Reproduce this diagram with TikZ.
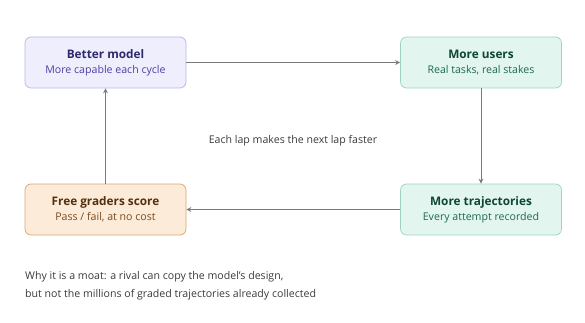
\documentclass[tikz,border=0pt]{standalone}
\usepackage{fontspec}
\setmainfont{Open Sans}
\usetikzlibrary{arrows.meta}
\definecolor{purplefill}{HTML}{EEEEFD}
\definecolor{purpleline}{HTML}{B9B6EA}
\definecolor{purpletitle}{HTML}{2E2A6B}
\definecolor{purplesub}{HTML}{4B3FA6}
\definecolor{greenfill}{HTML}{E2F5EE}
\definecolor{greenline}{HTML}{9ED4BF}
\definecolor{greentitle}{HTML}{0E4634}
\definecolor{greensub}{HTML}{1D6A4F}
\definecolor{orangefill}{HTML}{FCEBD8}
\definecolor{orangeline}{HTML}{D9A772}
\definecolor{orangetitle}{HTML}{55300F}
\definecolor{orangesub}{HTML}{7A4A1B}
\definecolor{arrowgray}{HTML}{7A7A7A}
\definecolor{notegray}{HTML}{3A3A3A}
\tikzset{
  stagebox/.style={draw, rounded corners=6pt, line width=0.7pt, minimum width=161pt, minimum height=51pt, align=center, inner sep=0pt},
  loopline/.style={draw=arrowgray, line width=0.8pt, -{Stealth[length=5pt, width=5pt, open]}},
}
\begin{document}
\begin{tikzpicture}[x=1pt, y=1pt]
  \useasboundingbox (0,0) rectangle (585,-323);

  \node[stagebox, fill=purplefill, draw=purpleline] (model) at (105.5,-62.5)
    {{\fontsize{11.8}{14}\selectfont\bfseries\color{purpletitle}Better model}\\[3pt]
     {\fontsize{10.6}{12}\selectfont\color{purplesub}More capable each cycle}};
  \node[stagebox, fill=greenfill, draw=greenline] (users) at (481,-62.5)
    {{\fontsize{11.8}{14}\selectfont\bfseries\color{greentitle}More users}\\[3pt]
     {\fontsize{10.6}{12}\selectfont\color{greensub}Real tasks, real stakes}};
  \node[stagebox, fill=greenfill, draw=greenline] (traj) at (481,-209.5)
    {{\fontsize{11.8}{14}\selectfont\bfseries\color{greentitle}More trajectories}\\[3pt]
     {\fontsize{10.6}{12}\selectfont\color{greensub}Every attempt recorded}};
  \node[stagebox, fill=orangefill, draw=orangeline] (graders) at (105.5,-209.5)
    {{\fontsize{11.8}{14}\selectfont\bfseries\color{orangetitle}Free graders score}\\[3pt]
     {\fontsize{10.6}{12}\selectfont\color{orangesub}Pass / fail, at no cost}};

  % the loop
  \draw[loopline] (model) -- (users);
  \draw[loopline] (users) -- (traj);
  \draw[loopline] (traj) -- (graders);
  \draw[loopline] (graders) -- (model);

  \node[text=notegray, font=\fontsize{10.6}{12}\selectfont] (lap) at (293,-141) {Each lap makes the next lap faster};

  \node[text=notegray, font=\fontsize{10.6}{12}\selectfont, anchor=north west, align=left, inner sep=0pt] (moat) at (25,-271)
    {Why it is a moat: a rival can copy the model’s design,\\[6pt]
     but not the millions of graded trajectories already collected};
\end{tikzpicture}
\end{document}
